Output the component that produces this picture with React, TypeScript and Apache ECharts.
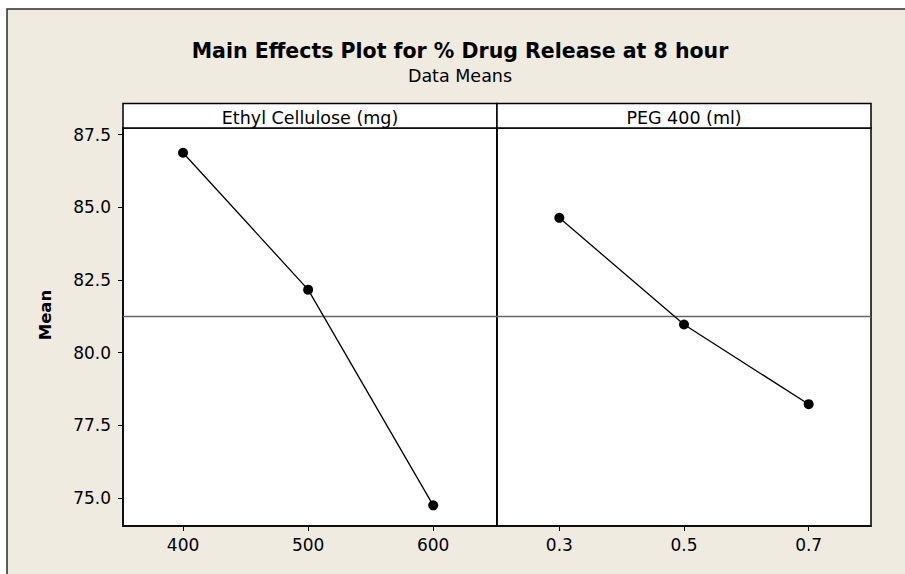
import React, { useEffect, useRef } from "react";
import * as echarts from "echarts";

// ---- data ----
const titleText = "Main Effects Plot for % Drug Release at 8 hour";
const subtitleText = "Data Means";
const yAxisName = "Mean";
const panelTitles = ["Ethyl Cellulose (mg)", "PEG 400 (ml)"];
const ecLevels = [400, 500, 600];
const ecMeans = [86.88, 82.17, 74.75];
const pegLevels = [0.3, 0.5, 0.7];
const pegMeans = [84.64, 80.97, 78.23];
const yTicks = [75, 77.5, 80, 82.5, 85, 87.5];

const FONT = "DejaVu Sans, Verdana, Tahoma, sans-serif";
const BEIGE = "#EFEBE1";

export default function App() {
  const ref = useRef<HTMLDivElement>(null);

  useEffect(() => {
    if (!ref.current) return;
    const chart = echarts.init(ref.current, null, { renderer: "svg" });
    const all = [...ecMeans, ...pegMeans];
    const grandMean = all.reduce((a, b) => a + b, 0) / all.length;

    const G_TOP = 128;
    const G_H = 398;
    const L1 = 123;
    const W1 = 374;
    const L2 = 497;
    const W2 = 374;
    const HDR_TOP = 103.5;

    const yBase = {
      type: "value",
      min: 74.04,
      max: 87.73,
      splitLine: { show: false },
      axisLine: { show: true, lineStyle: { color: "#000", width: 1.5 } },
    };

    const xBase = {
      type: "value",
      splitLine: { show: false },
      axisLine: { show: true, onZero: false, lineStyle: { color: "#000", width: 1.5 } },
      axisTick: { show: true, inside: false, length: 5, lineStyle: { color: "#000", width: 1 } },
    };

    const markLine = {
      silent: true,
      symbol: ["none", "none"],
      label: { show: false },
      lineStyle: { color: "#666666", width: 1.3, type: "solid" },
      data: [{ yAxis: grandMean }],
    };

    const seriesStyle = {
      type: "line",
      symbol: "circle",
      symbolSize: 10,
      itemStyle: { color: "#000" },
      lineStyle: { color: "#000", width: 1.3 },
      z: 5,
    };

    const labelStyle = {
      color: "#000",
      fontFamily: FONT,
      fontSize: 17,
    };

    const option: any = {
      animation: false,
      backgroundColor: "#fff",
      grid: [
        { left: L1, top: G_TOP, width: W1, height: G_H, show: true, backgroundColor: "#fff", borderColor: "#000", borderWidth: 1.5 },
        { left: L2, top: G_TOP, width: W2, height: G_H, show: true, backgroundColor: "#fff", borderColor: "#000", borderWidth: 1.5 },
      ],
      xAxis: [
        {
          ...xBase,
          gridIndex: 0,
          min: 352,
          max: 651,
          axisTick: { ...xBase.axisTick, customValues: ecLevels },
          axisLabel: {
            ...labelStyle,
            customValues: ecLevels,
            formatter: (v: number) => String(v),
            margin: 10,
          },
        },
        {
          ...xBase,
          gridIndex: 1,
          min: 0.2,
          max: 0.8,
          axisTick: { ...xBase.axisTick, customValues: pegLevels },
          axisLabel: {
            ...labelStyle,
            customValues: pegLevels,
            formatter: (v: number) => v.toFixed(1),
            margin: 10,
          },
        },
      ],
      yAxis: [
        {
          ...yBase,
          gridIndex: 0,
          axisTick: { show: true, inside: false, length: 5, customValues: yTicks, lineStyle: { color: "#000", width: 1 } },
          axisLabel: {
            ...labelStyle,
            customValues: yTicks,
            formatter: (v: number) => v.toFixed(1),
            margin: 12,
          },
        },
        {
          ...yBase,
          gridIndex: 1,
          axisTick: { show: false },
          axisLabel: { show: false },
        },
      ],
      series: [
        {
          ...seriesStyle,
          xAxisIndex: 0,
          yAxisIndex: 0,
          data: ecLevels.map((x, i) => [x, ecMeans[i]]),
          markLine,
        },
        {
          ...seriesStyle,
          xAxisIndex: 1,
          yAxisIndex: 1,
          data: pegLevels.map((x, i) => [x, pegMeans[i]]),
          markLine,
        },
      ],
      graphic: [
        {
          type: "rect",
          z: -100,
          shape: { x: 7, y: 9, width: 1000, height: 1000 },
          style: { fill: BEIGE, stroke: "#2b2b2b", lineWidth: 1.5 },
        },
        {
          type: "text",
          z: 100,
          x: 460,
          y: 51,
          style: {
            text: titleText,
            fill: "#000",
            font: `bold 20.5px ${FONT}`,
            align: "center",
            verticalAlign: "middle",
          },
        },
        {
          type: "text",
          z: 100,
          x: 460,
          y: 75.5,
          style: {
            text: subtitleText,
            fill: "#000",
            font: `17.5px ${FONT}`,
            align: "center",
            verticalAlign: "middle",
          },
        },
        {
          type: "text",
          z: 100,
          x: 45,
          y: 315,
          rotation: Math.PI / 2,
          style: {
            text: yAxisName,
            fill: "#000",
            font: `bold 16.5px ${FONT}`,
            align: "center",
            verticalAlign: "middle",
          },
        },
        {
          type: "rect",
          z: 100,
          shape: { x: L1, y: HDR_TOP, width: W1, height: G_TOP - HDR_TOP },
          style: { fill: "#fff", stroke: "#000", lineWidth: 1.5 },
        },
        {
          type: "rect",
          z: 100,
          shape: { x: L2, y: HDR_TOP, width: W2, height: G_TOP - HDR_TOP },
          style: { fill: "#fff", stroke: "#000", lineWidth: 1.5 },
        },
        {
          type: "text",
          z: 101,
          x: L1 + W1 / 2,
          y: 118,
          style: {
            text: panelTitles[0],
            fill: "#000",
            font: `17.5px ${FONT}`,
            align: "center",
            verticalAlign: "middle",
          },
        },
        {
          type: "text",
          z: 101,
          x: L2 + W2 / 2,
          y: 118,
          style: {
            text: panelTitles[1],
            fill: "#000",
            font: `17.5px ${FONT}`,
            align: "center",
            verticalAlign: "middle",
          },
        },
      ],
    };

    chart.setOption(option);
    return () => {
      chart.dispose();
    };
  }, []);

  return (
    <div
      ref={ref}
      style={{ position: "absolute", left: 0, top: 0, width: 905, height: 574 }}
    />
  );
}
